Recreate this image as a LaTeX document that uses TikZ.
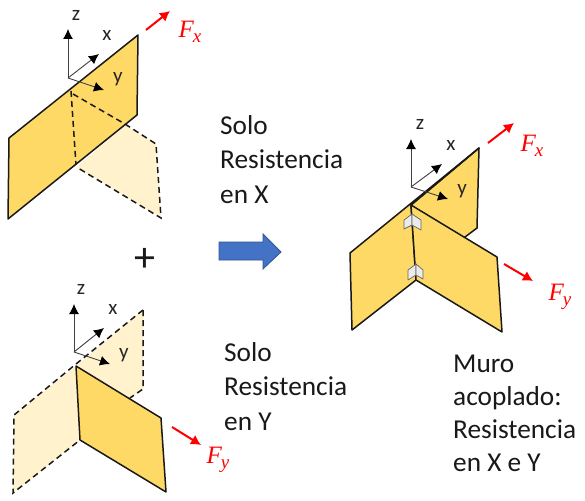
\documentclass[tikz,border=0pt]{standalone}
\usepackage{fontspec}
\setmainfont{Carlito}
\newfontfamily\forcefont{Liberation Serif}
\definecolor{wall}{HTML}{FFD966}
\definecolor{ghost}{HTML}{FFF2CC}
\definecolor{forcered}{HTML}{FF0000}
\definecolor{blockblue}{HTML}{4472C4}
\definecolor{bluedge}{HTML}{2F5597}
\usetikzlibrary{arrows.meta}
\newcommand{\forcelabel}[1]{{\forcefont\itshape\fontsize{25}{25}\selectfont F\kern-1pt\raisebox{-5pt}{\fontsize{19}{19}\selectfont #1}}}
\tikzset{
  x=1pt,y=-1pt,
  wallface/.style={fill=wall,draw=black!90,line width=1.5pt,line join=round},
  ghostface/.style={fill=ghost,draw=none},
  ghostedge/.style={draw=black!90,line width=1.5pt,dash pattern=on 6pt off 4pt},
  axisline/.style={draw=black!75,line width=.9pt,-{Latex[length=10pt,width=10pt,black]}},
  forcearrow/.style={draw=forcered,line width=2pt,-{Latex[length=10pt,width=11pt]}},
  lbl/.style={font=\fontsize{21}{21}\selectfont,text=black!85,inner sep=0pt},
  flbl/.style={text=forcered,inner sep=0pt},
  body/.style={font=\fontsize{27.3}{34.5}\selectfont,text=black!90,align=left,anchor=north west,inner sep=0pt},
  chev/.style={fill=black!8,draw=black!60,line width=.7pt,line join=round},
}
\begin{document}
\begin{tikzpicture}
\useasboundingbox (0,0) rectangle (585,500);
\fill[white] (0,0) rectangle (585,500);

% Panel 1
\fill[ghostface] (125,125)--(156,144)--(161,218)--(77,167)--cycle;
\path[wallface] (138,35)--(137,115)--(8,219)--(9,138)--cycle;
\coordinate (a1t) at (71,91); \coordinate (a1b) at (76,165);
\coordinate (a1r) at (125,124); \coordinate (a1c) at (156,144); \coordinate (a1d) at (161,218);
\draw[ghostedge] (a1t)--(a1b);
\draw[ghostedge] (73,94)--(a1r)--(a1c)--(a1d)--(78,168);
\coordinate (o1) at (68,78);
\coordinate (z1) at (68,29); \coordinate (x1) at (99,54); \coordinate (y1) at (104,90);
\draw[axisline] (o1)--(z1);
\draw[axisline] (o1)--(x1);
\draw[axisline] (o1)--(y1);
\node[lbl] (lz1) at (76,15) {z};
\node[lbl] (lx1) at (107,35) {x};
\node[lbl] (ly1) at (118,79) {y};
\coordinate (f1a) at (146,30); \coordinate (f1b) at (170,11);
\draw[forcearrow] (f1a)--(f1b);
\node[flbl] (fx1) at (190,32) {\forcelabel{x}};

% Panel 2
\fill[ghostface] (143,310)--(143,389)--(130,398)--(76,366)--cycle;
\fill[ghostface] (76,366)--(14,415)--(13,493)--(80,440)--cycle;
\draw[ghostedge] (143,310)--(76,364)--(14,415)--(13,493)--(80,440);
\draw[ghostedge] (143,310)--(143,389)--(130,398);
\path[wallface] (76,366)--(161,418)--(166,492)--(80,440)--cycle;
\coordinate (o2) at (74,352);
\coordinate (z2) at (74,304); \coordinate (x2) at (104,328); \coordinate (y2) at (110,364);
\draw[axisline] (o2)--(z2);
\draw[axisline] (o2)--(x2);
\draw[axisline] (o2)--(y2);
\node[lbl] (lz2) at (81,289) {z};
\node[lbl] (lx2) at (113,309) {x};
\node[lbl] (ly2) at (124,355) {y};
\coordinate (f2a) at (172,427); \coordinate (f2b) at (201,445);
\draw[forcearrow] (f2a)--(f2b);
\node[flbl] (fy2) at (218,460) {\forcelabel{y}};

% Panel 3
\path[wallface] (479,148)--(477,228)--(465,237)--(420,237)--(411,205)--cycle;
\path[wallface] (479,148)--(350,253)--(352,330)--(416,280)--(411,205)--cycle;
\path[wallface] (411,205)--(497,257)--(502,332)--(416,280)--cycle;
\coordinate (o3) at (411,187);
\coordinate (z3) at (411,139); \coordinate (x3) at (442,164); \coordinate (y3) at (448,199);
\draw[axisline] (o3)--(z3);
\draw[axisline] (o3)--(x3);
\draw[axisline] (o3)--(y3);
\node[lbl] (lz3) at (420,124) {z};
\node[lbl] (lx3) at (451,145) {x};
\node[lbl] (ly3) at (462,191) {y};
\coordinate (f3a) at (488,143); \coordinate (f3b) at (514,123);
\draw[forcearrow] (f3a)--(f3b);
\node[flbl] (fx3) at (532,146) {\forcelabel{x}};
\coordinate (f4a) at (504,264); \coordinate (f4b) at (533,281);
\draw[forcearrow] (f4a)--(f4b);
\node[flbl] (fy3) at (560,297) {\forcelabel{y}};
% chevrons
\path[chev] (404,220)--(412,214)--(412,225)--(404,229)--cycle;
\path[chev] (412,214)--(421,220)--(421,230)--(412,225)--cycle;
\path[chev] (408,270)--(416,264)--(416,275)--(408,280)--cycle;
\path[chev] (416,264)--(423,270)--(423,279)--(416,275)--cycle;

% Plus and arrow
\node[inner sep=0pt,font=\fontsize{42}{42}\selectfont,text=black!90] (plus) at (145,260) {+};
\path[fill=blockblue,draw=bluedge,line width=.8pt] (219,242)--(263,242)--(263,234)--(281,252)--(263,269)--(263,260)--(219,260)--cycle;

% Text
\node[body] (t1) at (220,115) {Solo\\Resistencia\\en X};
\node[body] (t2) at (224,342) {Solo\\Resistencia\\en Y};
\node[body,font=\fontsize{27.3}{32.8}\selectfont] (t3) at (453,355) {Muro\\acoplado:\\Resistencia\\en X e Y};
\end{tikzpicture}
\end{document}
